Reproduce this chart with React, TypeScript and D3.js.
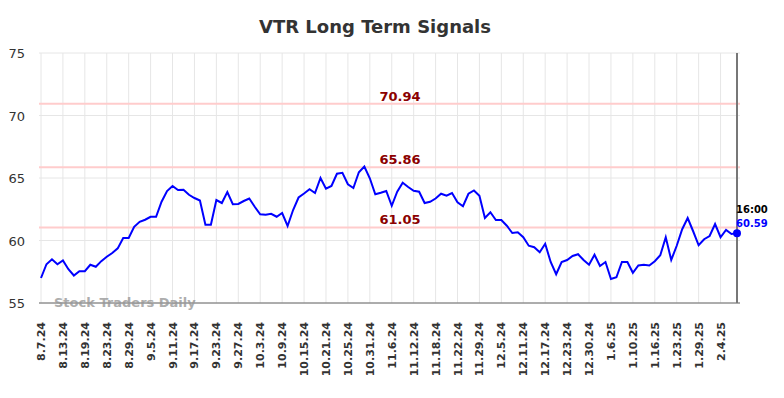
import React, { useEffect, useRef } from 'react';
import * as d3 from 'd3';

// signal values, one per trading day (8.7.24 .. 2.7.25)
const signal = [
  57.0, 58.1, 58.5, 58.1, 58.4, 57.7, 57.2, 57.55, 57.55, 58.06,
  57.9, 58.35, 58.7, 59.0, 59.37, 60.2, 60.2, 61.1, 61.5, 61.66,
  61.9, 61.9, 63.1, 63.96, 64.36, 64.04, 64.06, 63.66, 63.4, 63.2,
  61.26, 61.26, 63.24, 63.0, 63.88, 62.9, 62.92, 63.16, 63.36, 62.7,
  62.1, 62.06, 62.14, 61.9, 62.2, 61.16, 62.44, 63.44, 63.76, 64.1,
  63.8, 65.0, 64.14, 64.36, 65.34, 65.42, 64.5, 64.2, 65.46, 65.92,
  64.98, 63.7, 63.82, 63.96, 62.78, 63.9, 64.62, 64.28, 63.98, 63.9,
  63.0, 63.1, 63.36, 63.74, 63.58, 63.8, 63.06, 62.74, 63.74, 64.0,
  63.58, 61.8, 62.26, 61.64, 61.64, 61.18, 60.6, 60.66, 60.26, 59.58,
  59.46, 59.06, 59.74, 58.28, 57.3, 58.28, 58.44, 58.76, 58.9, 58.44,
  58.06, 58.86, 57.96, 58.28, 56.92, 57.06, 58.28, 58.28, 57.42, 58.0,
  58.06, 58.0, 58.34, 58.82, 60.26, 58.44, 59.58, 60.9, 61.8, 60.74,
  59.62, 60.1, 60.36, 61.32, 60.26, 60.84, 60.52, 60.59,
];

// one label every 4 trading days
const tickLabels = [
  '8.7.24', '8.13.24', '8.19.24', '8.23.24', '8.29.24', '9.5.24', '9.11.24', '9.17.24',
  '9.23.24', '9.27.24', '10.3.24', '10.9.24', '10.15.24', '10.21.24', '10.25.24', '10.31.24',
  '11.6.24', '11.12.24', '11.18.24', '11.22.24', '11.29.24', '12.5.24', '12.11.24', '12.17.24',
  '12.23.24', '12.30.24', '1.6.25', '1.10.25', '1.16.25', '1.23.25', '1.29.25', '2.4.25',
];
const tickStep = 4;

const levels = [70.94, 65.86, 61.05];
const yTicks = [55, 60, 65, 70, 75];
const lastTime = '16:00';

const W = 784;
const H = 398;
const left = 41;
const right = 737;
const top = 53;
const bottom = 303;
const font = 'DejaVu Sans, sans-serif';

export default function App() {
  const ref = useRef<SVGSVGElement>(null);

  useEffect(() => {
    const svg = d3.select(ref.current);
    svg.selectAll('*').remove();

    const x = d3.scaleLinear().domain([0, signal.length - 1]).range([left, right]);
    const y = d3.scaleLinear().domain([55, 75]).range([bottom, top]);

    // title
    svg.append('text')
      .attr('x', 375).attr('y', 33)
      .attr('text-anchor', 'middle')
      .attr('font-family', font).attr('font-size', 18).attr('font-weight', 'bold')
      .attr('fill', '#333')
      .text('VTR Long Term Signals');

    // grid
    const g = svg.append('g');
    g.selectAll('line.h').data(yTicks).enter().append('line')
      .attr('x1', left - 2).attr('x2', right + 3)
      .attr('y1', d => y(d)).attr('y2', d => y(d))
      .attr('stroke', '#e6e6e6').attr('stroke-width', 1);
    g.selectAll('line.v').data(tickLabels).enter().append('line')
      .attr('x1', (d, i) => x(i * tickStep)).attr('x2', (d, i) => x(i * tickStep))
      .attr('y1', top).attr('y2', bottom)
      .attr('stroke', '#e6e6e6').attr('stroke-width', 1);

    // y labels
    svg.selectAll('text.yl').data(yTicks).enter().append('text')
      .attr('x', 25).attr('y', d => y(d) + 5)
      .attr('text-anchor', 'end')
      .attr('font-family', font).attr('font-size', 13)
      .attr('fill', '#333')
      .text(d => d);

    // x labels
    svg.selectAll('text.xl').data(tickLabels).enter().append('text')
      .attr('transform', (d, i) => `translate(${x(i * tickStep) + 4},322) rotate(-90)`)
      .attr('text-anchor', 'end')
      .attr('font-family', font).attr('font-size', 11).attr('font-weight', 'bold')
      .attr('fill', '#333')
      .text(d => d);

    // signal levels
    svg.selectAll('line.lv').data(levels).enter().append('line')
      .attr('x1', left - 2).attr('x2', right + 3)
      .attr('y1', d => y(d)).attr('y2', d => y(d))
      .attr('stroke', '#ffcccc').attr('stroke-width', 2);
    svg.selectAll('text.lv').data(levels).enter().append('text')
      .attr('x', 400).attr('y', d => y(d) - 3)
      .attr('text-anchor', 'middle')
      .attr('font-family', font).attr('font-size', 13).attr('font-weight', 'bold')
      .attr('fill', '#8b0000')
      .text(d => d.toFixed(2));

    // axes lines
    svg.append('line')
      .attr('x1', left - 2).attr('x2', right + 3).attr('y1', bottom).attr('y2', bottom)
      .attr('stroke', '#666').attr('stroke-width', 1);
    svg.append('line')
      .attr('x1', right).attr('x2', right).attr('y1', top).attr('y2', bottom)
      .attr('stroke', '#777').attr('stroke-width', 2);

    // watermark
    svg.append('text')
      .attr('x', 54).attr('y', 307)
      .attr('font-family', font).attr('font-size', 13).attr('font-weight', 'bold')
      .attr('fill', '#999').attr('opacity', 0.8)
      .text('Stock Traders Daily');

    // signal line
    const line = d3.line<number>().x((d, i) => x(i)).y(d => y(d));
    svg.append('path')
      .datum(signal)
      .attr('d', line)
      .attr('fill', 'none')
      .attr('stroke', '#0000ff').attr('stroke-width', 2);

    const last = signal[signal.length - 1];
    svg.append('circle')
      .attr('cx', x(signal.length - 1)).attr('cy', y(last)).attr('r', 4)
      .attr('fill', '#0000ff');
    svg.append('text')
      .attr('x', right - 1).attr('y', 213)
      .attr('font-family', font).attr('font-size', 10).attr('font-weight', 'bold')
      .attr('fill', '#000')
      .text(lastTime);
    svg.append('text')
      .attr('x', right - 1).attr('y', 227)
      .attr('font-family', font).attr('font-size', 10).attr('font-weight', 'bold')
      .attr('fill', '#0000ff')
      .text(last.toFixed(2));
  }, []);

  return (
    <svg ref={ref} width={W} height={H}
      style={{ position: 'absolute', left: 0, top: 0, background: '#fff' }} />
  );
}
